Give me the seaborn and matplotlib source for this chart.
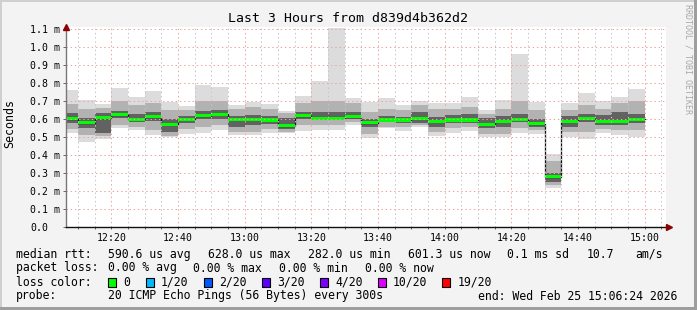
import matplotlib
matplotlib.use("Agg")
import matplotlib.pyplot as plt
import matplotlib.dates as mdates
from matplotlib.patches import Rectangle
import numpy as np
import pandas as pd
import seaborn as sns

# ---------------- data (ms) ----------------
bar_start = pd.date_range("2026-02-25 12:05", periods=35, freq="5min")
rtt_max = [.763, .707, .685, .774, .726, .757, .698, .674, .793, .778,
           .680, .698, .685, .648, .730, .814, 1.105, .717, .698, .717,
           .680, .702, .693, .693, .726, .652, .707, .963, .698, .407,
           .693, .748, .702, .726, .767]
q_hi2 = [.683, .660, .665, .700, .680, .690, .652, .650, .700, .700,
         .660, .670, .660, .635, .690, .700, .700, .690, .640, .660,
         .650, .680, .660, .660, .670, .630, .660, .700, .650, .370,
         .650, .680, .660, .690, .700]
q_hi3 = [.635, .606, .633, .645, .630, .640, .600, .620, .645, .650,
         .620, .625, .620, .610, .640, .640, .640, .640, .600, .620,
         .615, .640, .615, .625, .630, .610, .620, .630, .600, .300,
         .620, .630, .625, .640, .630]
median = [.604, .581, .609, .626, .600, .615, .572, .600, .620, .628,
          .600, .600, .596, .563, .619, .607, .607, .615, .581, .596,
          .596, .606, .589, .596, .596, .572, .589, .600, .576, .282,
          .589, .606, .589, .589, .601]
q_lo3 = [.580, .550, .525, .605, .585, .590, .530, .580, .600, .600,
         .560, .570, .575, .545, .600, .595, .595, .600, .560, .585,
         .580, .580, .560, .580, .580, .550, .560, .585, .560, .250,
         .560, .585, .570, .570, .580]
q_lo2 = [.545, .513, .505, .570, .560, .540, .510, .545, .560, .570,
         .530, .530, .545, .530, .570, .570, .570, .585, .520, .560,
         .555, .570, .530, .550, .555, .520, .520, .550, .540, .235,
         .530, .530, .545, .540, .540]
rtt_min = [.526, .474, .493, .550, .541, .513, .500, .519, .526, .541,
           .513, .513, .526, .522, .533, .541, .541, .569, .496, .550,
           .537, .559, .507, .522, .537, .504, .500, .522, .519, .217,
           .500, .489, .526, .513, .500]

y_ticks = [0.0, 0.1, 0.2, 0.3, 0.4, 0.5, 0.6, 0.7, 0.8, 0.9, 1.0, 1.1]
y_labels = ["0.0", "0.1 m", "0.2 m", "0.3 m", "0.4 m", "0.5 m", "0.6 m",
            "0.7 m", "0.8 m", "0.9 m", "1.0 m", "1.1 m"]

loss_labels = ["0", "1/20", "2/20", "3/20", "4/20", "10/20", "19/20"]
loss_colors = ["#00ff00", "#00b8ff", "#0059ff", "#5e00ff", "#7e00ff", "#dd00ff", "#ff0000"]

# ---------------- figure ----------------
W, H = 697, 310
sns.set_theme(style="white")
plt.rcParams["font.family"] = ["DejaVu Sans Mono", "DejaVu Sans"]

fig = plt.figure(figsize=(W / 100, H / 100), dpi=100)
fig.patch.set_facecolor("#f3f3f3")

def fx(px):
    return px / W

def fy(py):
    return 1 - py / H

ax = fig.add_axes([fx(66), fy(227.3), 600 / W, (227.3 - 26.7) / H])
ax.set_facecolor("white")

df = pd.DataFrame({"start": bar_start, "max": rtt_max, "hi2": q_hi2, "hi3": q_hi3,
                   "med": median, "lo3": q_lo3, "lo2": q_lo2, "min": rtt_min})
width = pd.Timedelta(minutes=5) / pd.Timedelta(days=1)
xs = mdates.date2num(df["start"])

ax.bar(xs, df["max"] - df["min"], bottom=df["min"], width=width, align="edge",
       color="#dcdcdc", linewidth=0, zorder=1)
ax.bar(xs, df["hi2"] - df["lo2"], bottom=df["lo2"], width=width, align="edge",
       color="#b2b2b2", linewidth=0, zorder=1.1)
ax.bar(xs, df["hi3"] - df["lo3"], bottom=df["lo3"], width=width, align="edge",
       color="#626262", linewidth=0, zorder=1.2)

# median step line
edges = list(df["start"]) + [df["start"].iloc[-1] + pd.Timedelta(minutes=5)]
line_df = pd.DataFrame({"t": mdates.date2num(edges), "v": list(df["med"]) + [df["med"].iloc[-1]]})
sns.lineplot(data=line_df, x="t", y="v", drawstyle="steps-post", color="#101010",
             linewidth=0.9, ax=ax, zorder=2)
# median loss-colored band
ax.bar(xs, 0.017, bottom=df["med"] - 0.0085, width=width, align="edge",
       color=loss_colors[0], linewidth=0, zorder=2.2)

t0 = pd.Timestamp("2026-02-25 12:06:24")
t1 = pd.Timestamp("2026-02-25 15:06:24")
ax.set_xlim(mdates.date2num(t0), mdates.date2num(t1))
ax.set_ylim(0, 1.1145)
ax.set_xlabel("")
ax.set_ylabel("")

ax.xaxis.set_major_locator(mdates.MinuteLocator(byminute=[0, 20, 40]))
ax.xaxis.set_minor_locator(mdates.MinuteLocator(byminute=range(0, 60, 5)))
ax.xaxis.set_major_formatter(mdates.DateFormatter("%H:%M"))
ax.set_yticks(y_ticks)
ax.set_yticklabels(y_labels, ha="left")

tick_font = 7.1
ax.tick_params(axis="x", which="both", direction="out", length=1.6, width=0.7,
               color="#666666", pad=2.2, labelsize=tick_font, bottom=True)
ax.tick_params(axis="y", which="major", direction="out", length=2.2, width=0.7,
               color="#666666", pad=23.7, labelsize=tick_font, left=True)
for lab in ax.get_xticklabels() + ax.get_yticklabels():
    lab.set_color("black")

dot = (0, (1.4, 2.8))
ax.set_axisbelow(False)
ax.grid(which="major", axis="both", color="#f2a0a0", linestyle=dot, linewidth=0.72, zorder=3)
ax.grid(which="minor", axis="x", color="#c4c4c4", linestyle=dot, linewidth=0.72, zorder=3)

for s in ["top", "right"]:
    ax.spines[s].set_visible(False)
ax.spines["left"].set_color("#777777")
ax.spines["left"].set_linewidth(1.0)
ax.spines["bottom"].set_color("#111111")
ax.spines["bottom"].set_linewidth(1.0)
ax.spines["left"].set_zorder(4)
ax.spines["bottom"].set_zorder(4)

# axis arrows
ax.plot([0], [1.0], marker="^", markersize=4.5, color="#8b0000", transform=ax.transAxes,
        clip_on=False, zorder=5)
ax.plot([1.0 + 3 / 600], [0], marker=">", markersize=4.5, color="#8b0000",
        transform=ax.transAxes, clip_on=False, zorder=5)

# ---------------- texts ----------------
fig.text(0.5, fy(19), "Last 3 Hours from d839d4b362d2", ha="center", va="center",
         fontsize=9.5, color="black")
fig.text(fx(10), fy(123), "Seconds", rotation=90, ha="center", va="center",
         fontsize=8.4, color="black")
fig.text(fx(688), fy(4), "RRDTOOL / TOBI OETIKER", rotation=270, ha="center", va="top",
         fontsize=6.0, color="#a8a8a8")

lf = 8.3
def ltxt(x, y, s):
    fig.text(fx(x), fy(y), s, ha="left", va="center", fontsize=lf, color="black")

ltxt(16, 254.3, "median rtt:")
ltxt(107.6, 254.3, "590.6 us avg")
ltxt(207.6, 254.3, "628.0 us max")
ltxt(307.6, 254.3, "282.0 us min")
ltxt(407.6, 254.3, "601.3 us now")
ltxt(507.4, 254.3, "0.1 ms sd")
ltxt(586.7, 254.3, "10.7")
ltxt(635.0, 254.3, "am/s")

ltxt(16, 268, "packet loss:")
ltxt(107.6, 268, "0.00 % avg")
ltxt(192.9, 268, "0.00 % max")
ltxt(279.0, 268, "0.00 % min")
ltxt(365.3, 268, "0.00 % now")

ltxt(16, 282.3, "loss color:")
sw_x = [108.4, 145.8, 203.6, 262.2, 320.0, 377.8, 442.4]
for x, lab, c in zip(sw_x, loss_labels, loss_colors):
    fig.add_artist(Rectangle((fx(x), fy(286.5)), 8 / W, 9 / H, transform=fig.transFigure,
                             facecolor=c, edgecolor="black", linewidth=0.8))
    ltxt(x + 15.2, 282.3, lab)

ltxt(16, 296, "probe:")
ltxt(107.6, 296, "20 ICMP Echo Pings (56 Bytes) every 300s")
ltxt(478.3, 296, "end: Wed Feb 25 15:06:24 2026")

# bevel frame
fig.add_artist(Rectangle((0, fy(2)), 1, 2 / H, transform=fig.transFigure,
                         facecolor="#cfcfcf", linewidth=0))
fig.add_artist(Rectangle((0, 0), 2 / W, 1, transform=fig.transFigure,
                         facecolor="#cfcfcf", linewidth=0))
fig.add_artist(Rectangle((fx(694), 0), 3 / W, 1, transform=fig.transFigure,
                         facecolor="#9e9e9e", linewidth=0))
fig.add_artist(Rectangle((0, 0), 1, 3 / H, transform=fig.transFigure,
                         facecolor="#9e9e9e", linewidth=0))

fig.savefig("out.png", dpi=100, facecolor=fig.get_facecolor())
